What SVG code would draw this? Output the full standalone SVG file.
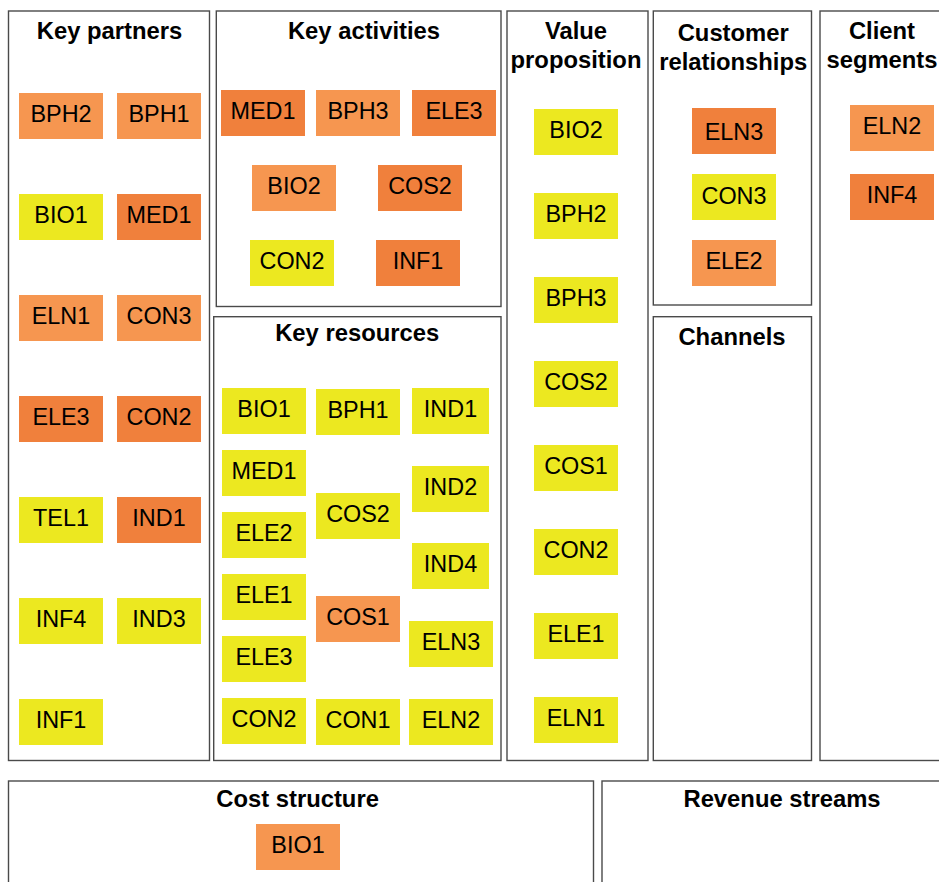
<svg xmlns="http://www.w3.org/2000/svg" width="939" height="882" viewBox="0 0 939 882">
<style>
  .frame { fill: #ffffff; stroke: #4a4a4a; stroke-width: 1.4; }
  .title { font-family: "Liberation Sans", Arial, sans-serif; font-weight: bold; font-size: 23.8px; fill: #000; text-anchor: middle; }
  .lbl { font-family: "Liberation Sans", Arial, sans-serif; font-size: 23.4px; fill: #000; text-anchor: middle; }
  .y { fill: #ECE820; }
  .l { fill: #F69650; }
  .d { fill: #F0803C; }
</style>
<rect x="0" y="0" width="939" height="882" fill="#ffffff"/>

<g id="frames">
  <g id="key-partners">
    <rect class="frame" x="8.5" y="11" width="201" height="749.5"/>
    <text class="title" x="109.5" y="39">Key partners</text>
  </g>
  <g id="key-activities">
    <rect class="frame" x="216.3" y="11" width="284.7" height="295.5"/>
    <text class="title" x="364" y="39">Key activities</text>
  </g>
  <g id="key-resources">
    <rect class="frame" x="213.7" y="316.7" width="287.3" height="443.8"/>
    <text class="title" x="357.2" y="341">Key resources</text>
  </g>
  <g id="value-proposition">
    <rect class="frame" x="507" y="11" width="141" height="749.5"/>
    <text class="title" x="576" y="39">Value</text>
    <text class="title" x="576" y="68">proposition</text>
  </g>
  <g id="customer-relationships">
    <rect class="frame" x="653.3" y="11" width="158.2" height="294"/>
    <text class="title" x="733.2" y="41">Customer</text>
    <text class="title" x="733.2" y="70">relationships</text>
  </g>
  <g id="channels">
    <rect class="frame" x="653.3" y="316.7" width="158.2" height="443.8"/>
    <text class="title" x="732" y="345">Channels</text>
  </g>
  <g id="client-segments">
    <rect class="frame" x="820" y="11" width="124" height="749.5"/>
    <text class="title" x="882" y="39">Client</text>
    <text class="title" x="882" y="68">segments</text>
  </g>
  <g id="cost-structure">
    <rect class="frame" x="8.5" y="781" width="585" height="120"/>
    <text class="title" x="297.6" y="806.7">Cost structure</text>
  </g>
  <g id="revenue-streams">
    <rect class="frame" x="602" y="781" width="360" height="120"/>
    <text class="title" x="782" y="806.7">Revenue streams</text>
  </g>
</g>

<g id="notes-key-partners">
  <g id="kp-bph2"><rect class="l" x="19" y="93" width="84" height="46"/><text class="lbl" x="61" y="122">BPH2</text></g>
  <g id="kp-bph1"><rect class="l" x="117" y="93" width="84" height="46"/><text class="lbl" x="159" y="122">BPH1</text></g>
  <g id="kp-bio1"><rect class="y" x="19" y="194" width="84" height="46"/><text class="lbl" x="61" y="223">BIO1</text></g>
  <g id="kp-med1"><rect class="d" x="117" y="194" width="84" height="46"/><text class="lbl" x="159" y="223">MED1</text></g>
  <g id="kp-eln1"><rect class="l" x="19" y="295" width="84" height="46"/><text class="lbl" x="61" y="324">ELN1</text></g>
  <g id="kp-con3"><rect class="l" x="117" y="295" width="84" height="46"/><text class="lbl" x="159" y="324">CON3</text></g>
  <g id="kp-ele3"><rect class="d" x="19" y="396" width="84" height="46"/><text class="lbl" x="61" y="425">ELE3</text></g>
  <g id="kp-con2"><rect class="d" x="117" y="396" width="84" height="46"/><text class="lbl" x="159" y="425">CON2</text></g>
  <g id="kp-tel1"><rect class="y" x="19" y="497" width="84" height="46"/><text class="lbl" x="61" y="526">TEL1</text></g>
  <g id="kp-ind1"><rect class="d" x="117" y="497" width="84" height="46"/><text class="lbl" x="159" y="526">IND1</text></g>
  <g id="kp-inf4"><rect class="y" x="19" y="598" width="84" height="46"/><text class="lbl" x="61" y="627">INF4</text></g>
  <g id="kp-ind3"><rect class="y" x="117" y="598" width="84" height="46"/><text class="lbl" x="159" y="627">IND3</text></g>
  <g id="kp-inf1"><rect class="y" x="19" y="699" width="84" height="46"/><text class="lbl" x="61" y="728">INF1</text></g>
</g>

<g id="notes-key-activities">
  <g id="ka-med1"><rect class="d" x="221" y="90" width="84" height="46"/><text class="lbl" x="263" y="119">MED1</text></g>
  <g id="ka-bph3"><rect class="l" x="316" y="90" width="84" height="46"/><text class="lbl" x="358" y="119">BPH3</text></g>
  <g id="ka-ele3"><rect class="d" x="412" y="90" width="84" height="46"/><text class="lbl" x="454" y="119">ELE3</text></g>
  <g id="ka-bio2"><rect class="l" x="252" y="165" width="84" height="46"/><text class="lbl" x="294" y="194">BIO2</text></g>
  <g id="ka-cos2"><rect class="d" x="378" y="165" width="84" height="46"/><text class="lbl" x="420" y="194">COS2</text></g>
  <g id="ka-con2"><rect class="y" x="250" y="240" width="84" height="46"/><text class="lbl" x="292" y="269">CON2</text></g>
  <g id="ka-inf1"><rect class="d" x="376" y="240" width="84" height="46"/><text class="lbl" x="418" y="269">INF1</text></g>
</g>

<g id="notes-key-resources">
  <g id="kr-bio1"><rect class="y" x="222" y="388" width="84" height="46"/><text class="lbl" x="264" y="417">BIO1</text></g>
  <g id="kr-bph1"><rect class="y" x="316" y="389" width="84" height="46"/><text class="lbl" x="358" y="418">BPH1</text></g>
  <g id="kr-ind1"><rect class="y" x="412" y="388" width="77" height="46"/><text class="lbl" x="450.5" y="417">IND1</text></g>
  <g id="kr-med1"><rect class="y" x="222" y="450" width="84" height="46"/><text class="lbl" x="264" y="479">MED1</text></g>
  <g id="kr-ind2"><rect class="y" x="412" y="466" width="77" height="46"/><text class="lbl" x="450.5" y="495">IND2</text></g>
  <g id="kr-cos2"><rect class="y" x="316" y="493" width="84" height="46"/><text class="lbl" x="358" y="522">COS2</text></g>
  <g id="kr-ele2"><rect class="y" x="222" y="512" width="84" height="46"/><text class="lbl" x="264" y="541">ELE2</text></g>
  <g id="kr-ind4"><rect class="y" x="412" y="543" width="77" height="46"/><text class="lbl" x="450.5" y="572">IND4</text></g>
  <g id="kr-ele1"><rect class="y" x="222" y="574" width="84" height="46"/><text class="lbl" x="264" y="603">ELE1</text></g>
  <g id="kr-cos1"><rect class="l" x="316" y="596" width="84" height="46"/><text class="lbl" x="358" y="625">COS1</text></g>
  <g id="kr-eln3"><rect class="y" x="409" y="621" width="84" height="46"/><text class="lbl" x="451" y="650">ELN3</text></g>
  <g id="kr-ele3"><rect class="y" x="222" y="636" width="84" height="46"/><text class="lbl" x="264" y="665">ELE3</text></g>
  <g id="kr-con2"><rect class="y" x="222" y="698" width="84" height="46"/><text class="lbl" x="264" y="727">CON2</text></g>
  <g id="kr-con1"><rect class="y" x="316" y="699" width="84" height="46"/><text class="lbl" x="358" y="728">CON1</text></g>
  <g id="kr-eln2"><rect class="y" x="409" y="699" width="84" height="46"/><text class="lbl" x="451" y="728">ELN2</text></g>
</g>

<g id="notes-value-proposition">
  <g id="vp-bio2"><rect class="y" x="534" y="109" width="84" height="46"/><text class="lbl" x="576" y="138">BIO2</text></g>
  <g id="vp-bph2"><rect class="y" x="534" y="193" width="84" height="46"/><text class="lbl" x="576" y="222">BPH2</text></g>
  <g id="vp-bph3"><rect class="y" x="534" y="277" width="84" height="46"/><text class="lbl" x="576" y="306">BPH3</text></g>
  <g id="vp-cos2"><rect class="y" x="534" y="361" width="84" height="46"/><text class="lbl" x="576" y="390">COS2</text></g>
  <g id="vp-cos1"><rect class="y" x="534" y="445" width="84" height="46"/><text class="lbl" x="576" y="474">COS1</text></g>
  <g id="vp-con2"><rect class="y" x="534" y="529" width="84" height="46"/><text class="lbl" x="576" y="558">CON2</text></g>
  <g id="vp-ele1"><rect class="y" x="534" y="613" width="84" height="46"/><text class="lbl" x="576" y="642">ELE1</text></g>
  <g id="vp-eln1"><rect class="y" x="534" y="697" width="84" height="46"/><text class="lbl" x="576" y="726">ELN1</text></g>
</g>

<g id="notes-customer-relationships">
  <g id="cr-eln3"><rect class="d" x="692" y="108" width="84" height="46"/><text class="lbl" x="734" y="140">ELN3</text></g>
  <g id="cr-con3"><rect class="y" x="692" y="174" width="84" height="46"/><text class="lbl" x="734" y="204">CON3</text></g>
  <g id="cr-ele2"><rect class="l" x="692" y="240" width="84" height="46"/><text class="lbl" x="734" y="269">ELE2</text></g>
</g>

<g id="notes-client-segments">
  <g id="cs-eln2"><rect class="l" x="850" y="105" width="84" height="46"/><text class="lbl" x="892" y="133.5">ELN2</text></g>
  <g id="cs-inf4"><rect class="d" x="850" y="174" width="84" height="46"/><text class="lbl" x="892" y="203">INF4</text></g>
</g>

<g id="notes-cost-structure">
  <g id="cost-bio1"><rect class="l" x="256" y="824" width="84" height="46"/><text class="lbl" x="298" y="853">BIO1</text></g>
</g>

<g id="connectors"></g>
</svg>
